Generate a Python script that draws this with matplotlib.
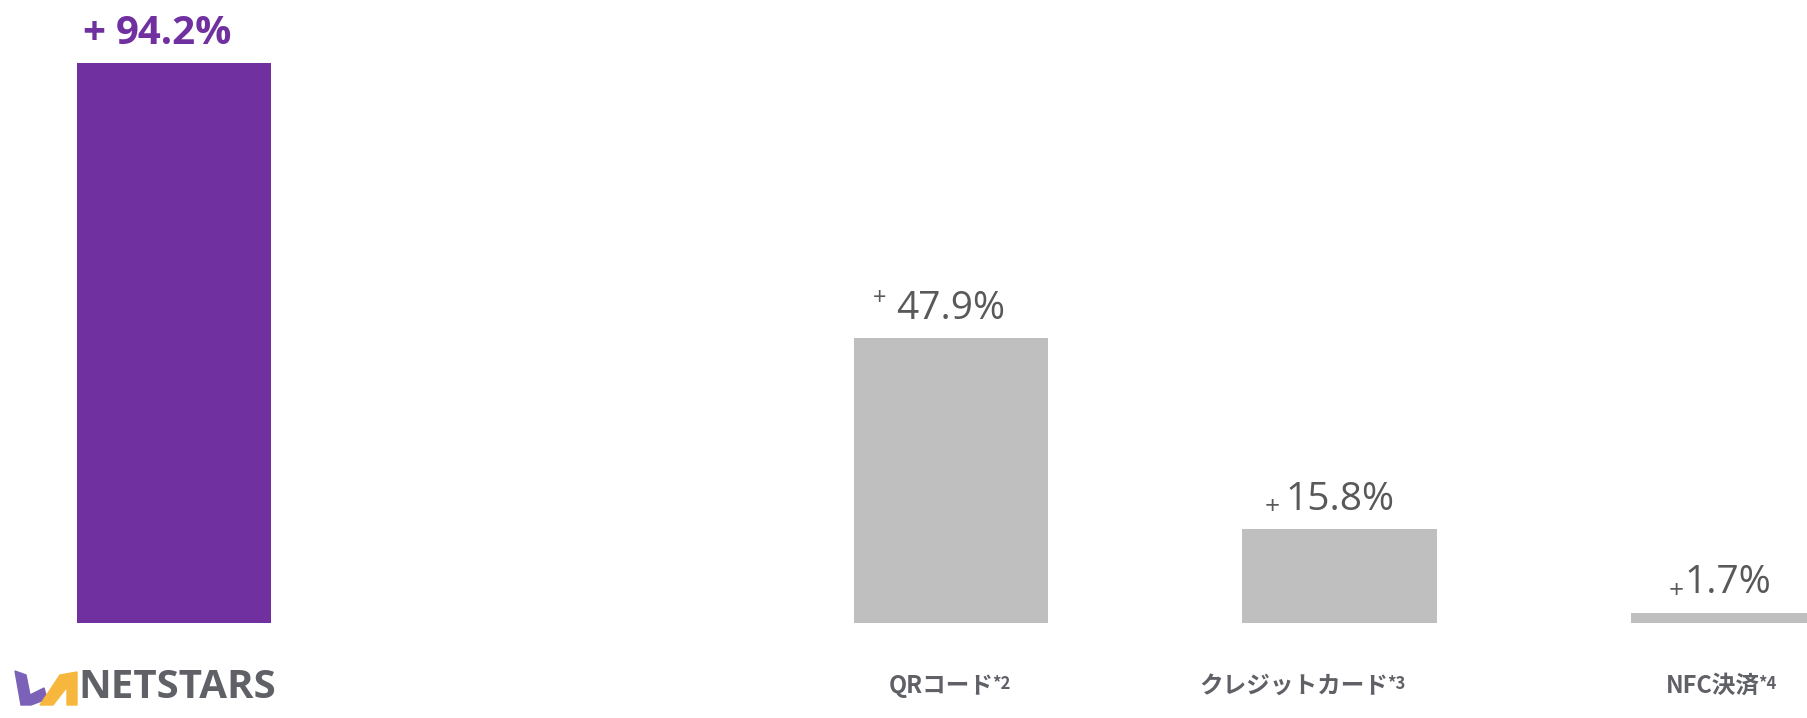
import matplotlib.pyplot as plt
from matplotlib.patches import Polygon

# data
categories = ['', 'QRコード', 'クレジットカード', 'NFC決済']
notes = ['', '*2', '*3', '*4']
positions = [0, 2, 3, 4]
growth = [94.2, 47.9, 15.8, 1.7]
value_text = ['94.2%', '47.9%', '15.8%', '1.7%']

purple = '#7030a0'
bar_grey = '#bfbfbf'
text_grey = '#595959'
label_grey = '#606166'

W, H = 1807, 718
fig = plt.figure(figsize=(W / 100, H / 100), dpi=100)
ax = fig.add_axes([0, 95 / H, 1, 623 / H])

colors = [purple, bar_grey, bar_grey, bar_grey]
ax.bar(positions, growth, width=0.5, color=colors, zorder=2)
ax.set_xlim(-0.448, 4.203)
ax.set_ylim(0, 104.8)
ax.axis('off')

# value labels: number centred on bar, "+" drawn separately to its left
plus_size = [29, 17, 19, 19]
plus_weight = ['bold', 'normal', 'normal', 'normal']
plus_yfrac = [0.5, 0.76, 0.3, 0.3]
plus_gap = [8, 7, 4, 1]
for i, (x, v, s) in enumerate(zip(positions, growth, value_text)):
    main = i == 0
    t = ax.annotate(s, xy=(x, v), xytext=(0, 14), textcoords='offset points',
                    ha='center', va='baseline', fontsize=29 if main else 28,
                    fontweight='bold' if main else 'normal',
                    color=purple if main else text_grey,
                    family=['Open Sans', 'DejaVu Sans'])
    ax.annotate('+', xy=(0, plus_yfrac[i]), xycoords=t,
                xytext=(-plus_gap[i], 0), textcoords='offset points',
                ha='right', va='center', fontsize=plus_size[i],
                fontweight=plus_weight[i],
                color=purple if main else text_grey,
                family=['Open Sans', 'DejaVu Sans'])

# category labels under the bars
label_shift = [0, -0.16, -0.36, -0.16]
for i, (x, c, n) in enumerate(zip(positions, categories, notes)):
    if not c:
        continue
    t = ax.text(x + label_shift[i], -0.1124, c, transform=ax.get_xaxis_transform(),
                ha='left', va='baseline', fontsize=17, fontweight='bold',
                color=label_grey, family=['Noto Sans CJK JP', 'DejaVu Sans'])
    ax.annotate(n, xy=(1, 0.95), xycoords=t, xytext=(-1, 0),
                textcoords='offset points', ha='left', va='top',
                fontsize=12, fontweight='bold', color=label_grey,
                family=['Noto Sans CJK JP', 'DejaVu Sans'])

# logo
def px(pts):
    return [(x / W, 1 - y / H) for x, y in pts]

fig.patches.append(Polygon(px([(15, 671), (26, 675), (30, 695), (44, 688),
                               (47, 699), (31, 705), (21, 705)]),
                           closed=True, color='#7b62b8', transform=fig.transFigure))
fig.patches.append(Polygon(px([(40, 705), (60, 675), (77, 672), (77, 705),
                               (67, 705), (67, 687), (53, 705)]),
                           closed=True, color='#f6b73c', transform=fig.transFigure))
fig.text(78 / W, 20 / H, 'NETSTARS', fontsize=29, fontweight='bold',
         color=label_grey, family=['Open Sans', 'DejaVu Sans'],
         ha='left', va='baseline')

fig.savefig('out.png', dpi=100)
